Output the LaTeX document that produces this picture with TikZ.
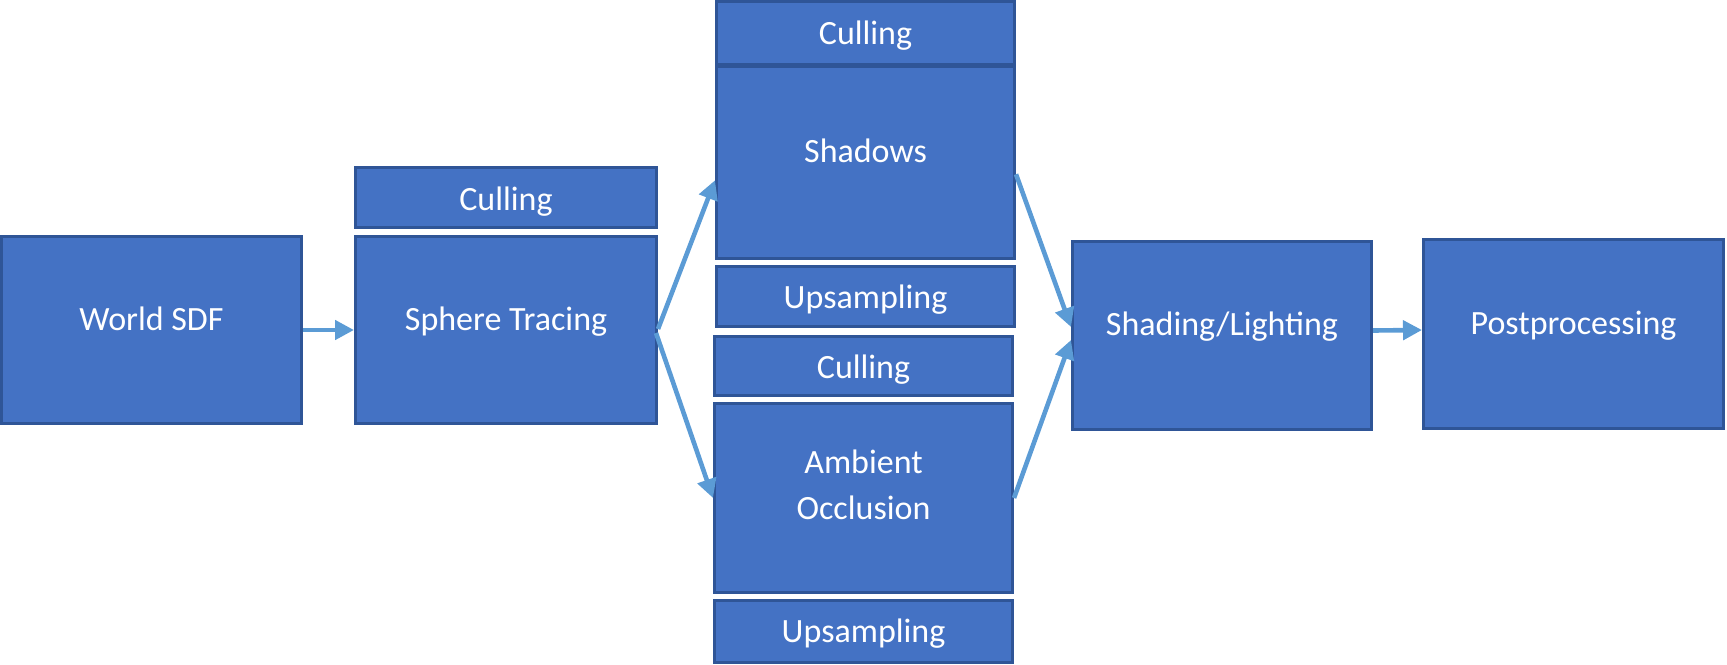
\documentclass[tikz,border=0pt]{standalone}
\usepackage{fontspec}
\setmainfont{Carlito}
\usetikzlibrary{arrows.meta,fit,calc}
\definecolor{boxfill}{HTML}{4472C4}
\definecolor{boxline}{HTML}{2F5597}
\definecolor{arrowc}{HTML}{5B9BD5}
\begin{document}
\begin{tikzpicture}[x=0.5pt,y=-0.5pt,
  box/.style={draw=boxline, fill=boxfill, line width=1.5pt, inner sep=0pt},
  lbl/.style={text=white, font=\fontsize{17}{23}\selectfont, anchor=base, inner sep=0pt},
  conn/.style={draw=arrowc, line width=2.3pt, -{Triangle[length=9.5pt,width=9.5pt]}}]
\useasboundingbox (0,0) rectangle (1727,664);
% boxes
\node[box, fit={(1.5,236.5)(301.5,423.5)}] (ws) {};
\node[box, fit={(355.5,167.5)(656.5,227.5)}] (c1) {};
\node[box, fit={(355.5,236.5)(656.5,423.5)}] (st) {};
\node[box, fit={(716.5,1.5)(1014.5,64)}] (c2) {};
\node[box, fit={(716.5,66)(1014.5,258.5)}] (sh) {};
\node[box, fit={(716.5,266.5)(1014.5,326.5)}] (u1) {};
\node[box, fit={(714.5,336.5)(1012.5,395.5)}] (c3) {};
\node[box, fit={(714.5,403.5)(1012.5,592.5)}] (ao) {};
\node[box, fit={(714.5,600.5)(1012.5,662.5)}] (u2) {};
\node[box, fit={(1072.5,241.5)(1371.5,429.5)}] (sl) {};
\node[box, fit={(1423.5,239.5)(1723.5,428.5)}] (pp) {};
% labels
\node[lbl] (tws) at (151.5,330) {World SDF};
\node[lbl] (tc1) at (506,210) {Culling};
\node[lbl] (tst) at (506,330) {Sphere Tracing};
\node[lbl] (tc2) at (865.5,44) {Culling};
\node[lbl] (tsh) at (865.5,162) {Shadows};
\node[lbl] (tu1) at (865.5,308) {Upsampling};
\node[lbl] (tc3) at (863.5,378) {Culling};
\node[lbl, anchor=center, align=center] (tao) at (863.5,485) {Ambient\\Occlusion};
\node[lbl] (tu2) at (863.5,642) {Upsampling};
\node[lbl] (tsl) at (1222,335) {Shading/Lighting};
\node[lbl] (tpp) at (1573.5,334) {Postprocessing};
% connectors
\draw[conn] (ws.east) -- (st.west);
\draw[conn] ($(st.east)+(0,-1)$) -- ($(sh.west)+(0,18)$);
\draw[conn] ($(st.east)+(-2,3)$) -- (ao.west);
\draw[conn] ($(sh.east)+(0,12)$) -- ($(sl.west)+(0,-8.5)$);
\draw[conn] (ao.east) -- ($(sl.west)+(0,4.5)$);
\draw[conn] ($(sl.east)+(0,-5)$) -- ($(pp.west)+(0,-4)$);
\end{tikzpicture}
\end{document}
